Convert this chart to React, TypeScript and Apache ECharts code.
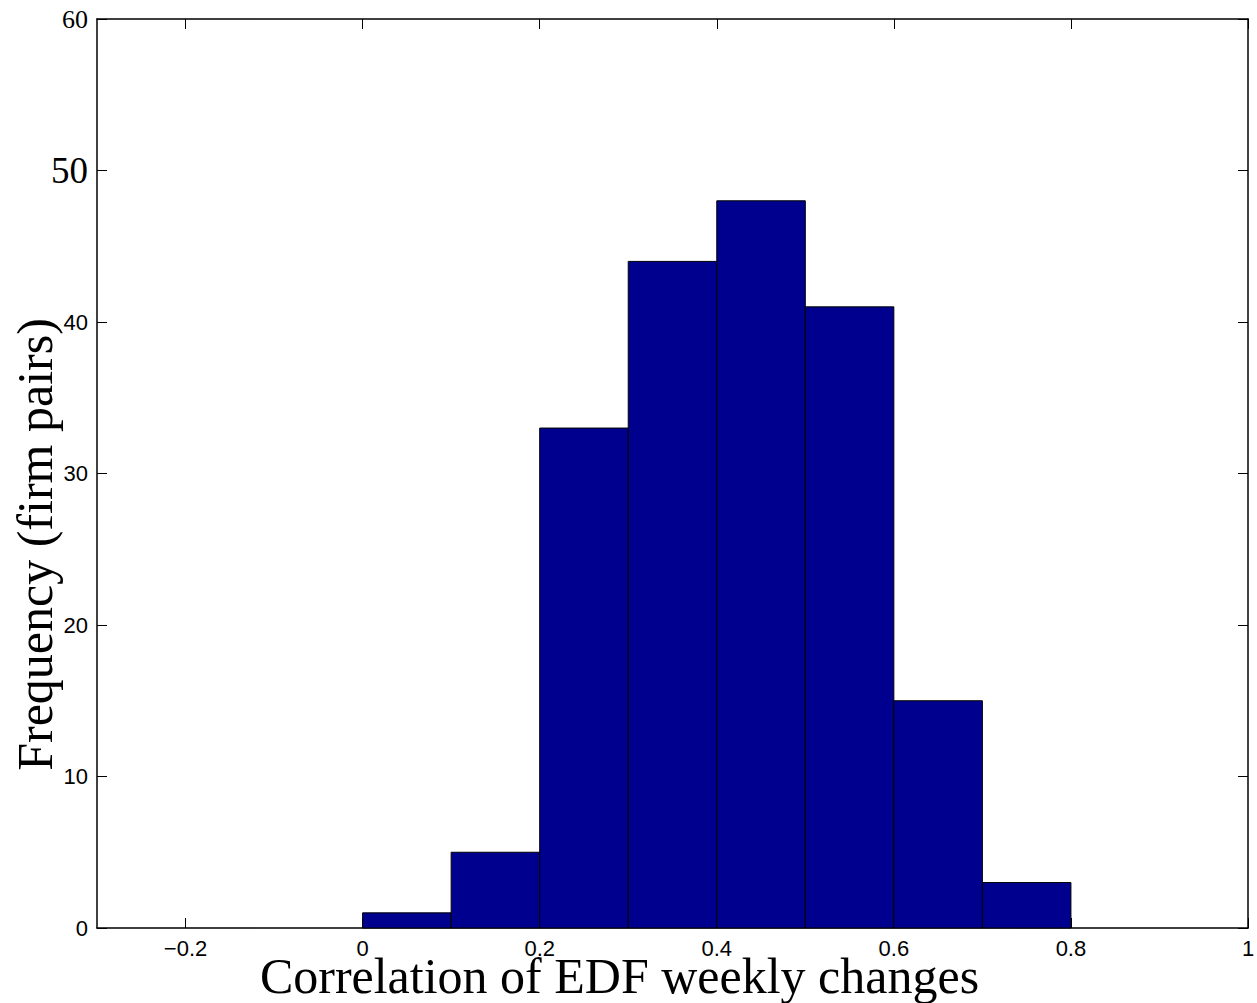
import React, { useEffect, useRef } from "react";
import * as echarts from "echarts";

const binStarts = [0.0, 0.1, 0.2, 0.3, 0.4, 0.5, 0.6, 0.7];
const binWidth = 0.1;
const counts = [1, 5, 33, 44, 48, 41, 15, 3];
const xTicks = [-0.2, 0, 0.2, 0.4, 0.6, 0.8, 1];
const xTickLabels = ["\u22120.2", "0", "0.2", "0.4", "0.6", "0.8", "1"];
const yTicks = [0, 10, 20, 30, 40, 50, 60];

const SERIF = "'Liberation Serif', 'DejaVu Serif', serif";
const SANS = "'Liberation Sans', Arial, sans-serif";

export default function App() {
  const ref = useRef<HTMLDivElement>(null);
  useEffect(() => {
    document.body.style.margin = "0";
    const chart = echarts.init(ref.current!, null, { renderer: "svg" });
    const data = binStarts.map((s, i) => [s, s + binWidth, counts[i]]);
    const lineStyle = { color: "#000", width: 1.5 };
    const tickStyle = { color: "#000", width: 1 };
    chart.setOption({
      animation: false,
      backgroundColor: "#fff",
      grid: { left: 97, right: 9, top: 19, bottom: 75, containLabel: false, outerBoundsMode: "none" },
      xAxis: [
        {
          type: "value",
          min: -0.3,
          max: 1,
          position: "bottom",
          name: "Correlation of EDF weekly changes",
          nameLocation: "middle",
          nameGap: 23,
          nameMoveOverlap: false,
          nameTextStyle: { fontFamily: SERIF, fontSize: 50, color: "#000", padding: [0, 106, 0, 0] },
          axisLine: { show: true, onZero: false, lineStyle },
          axisTick: { show: true, inside: true, length: 10, lineStyle: tickStyle, customValues: xTicks },
          axisLabel: {
            show: true,
            customValues: xTicks,
            formatter: (v: number) => {
              const i = xTicks.findIndex((t) => Math.abs(t - v) < 1e-9);
              return i >= 0 ? xTickLabels[i] : "";
            },
            fontFamily: SANS,
            fontSize: 22,
            color: "#000",
            margin: 9,
          },
          splitLine: { show: false },
        },
        {
          type: "value",
          min: -0.3,
          max: 1,
          position: "top",
          axisLine: { show: true, onZero: false, lineStyle },
          axisTick: { show: true, inside: true, length: 10, lineStyle: tickStyle, customValues: xTicks },
          axisLabel: { show: false },
          splitLine: { show: false },
        },
      ],
      yAxis: [
        {
          type: "value",
          min: 0,
          max: 60,
          interval: 10,
          position: "left",
          name: "Frequency (firm pairs)",
          nameLocation: "middle",
          nameGap: 37,
          nameMoveOverlap: false,
          nameTextStyle: { fontFamily: SERIF, fontSize: 50, color: "#000", padding: [0, 142, 0, 0] },
          axisLine: { show: true, onZero: false, lineStyle },
          axisTick: { show: true, inside: true, length: 10, lineStyle: tickStyle },
          axisLabel: {
            show: true,
            margin: 9,
            fontFamily: SANS,
            fontSize: 22,
            color: "#000",
            formatter: (v: number) => {
              if (v === 50) return "{big|50}";
              if (v === 60) return "{mid|60}";
              return String(v);
            },
            rich: {
              big: { fontFamily: SERIF, fontSize: 37, color: "#000" },
              mid: { fontFamily: SERIF, fontSize: 26, color: "#000" },
            },
          },
          splitLine: { show: false },
        },
        {
          type: "value",
          min: 0,
          max: 60,
          interval: 10,
          position: "right",
          axisLine: { show: true, onZero: false, lineStyle },
          axisTick: { show: true, inside: true, length: 10, lineStyle: tickStyle },
          axisLabel: { show: false },
          splitLine: { show: false },
        },
      ],
      series: [
        {
          type: "custom",
          xAxisIndex: 0,
          yAxisIndex: 0,
          data,
          encode: { x: [0, 1], y: 2 },
          renderItem: (params: any, api: any) => {
            const x0 = api.value(0);
            const x1 = api.value(1);
            const v = api.value(2);
            const p0 = api.coord([x0, 0]);
            const p1 = api.coord([x1, v]);
            return {
              type: "rect",
              shape: { x: p0[0], y: p1[1], width: p1[0] - p0[0], height: p0[1] - p1[1] },
              style: { fill: "#00008F", stroke: "#000", lineWidth: 1 },
            };
          },
        },
      ],
    });
    return () => chart.dispose();
  }, []);
  return <div ref={ref} style={{ width: 1257, height: 1003 }} />;
}
